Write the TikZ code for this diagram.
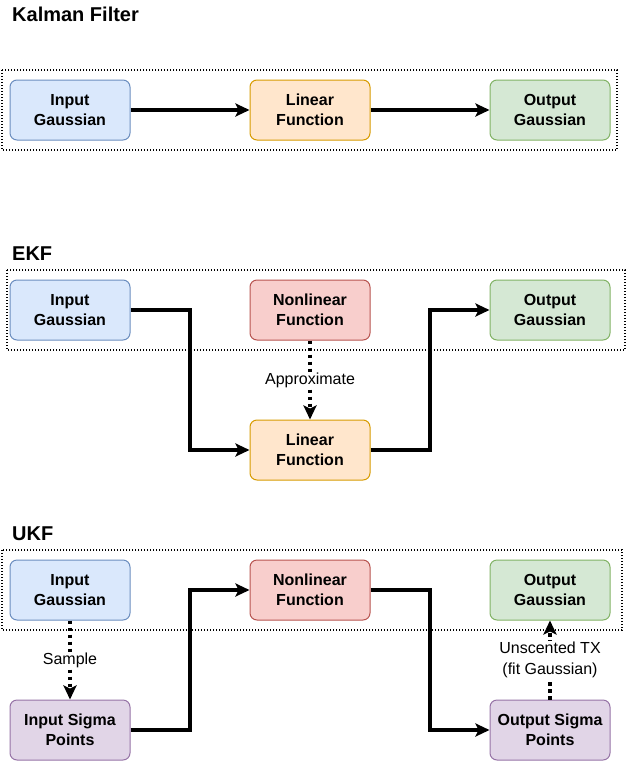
\documentclass[tikz,border=0pt]{standalone}
\usepackage{fontspec}
\setmainfont{Liberation Sans}
\usetikzlibrary{arrows.meta}
\definecolor{bfill}{HTML}{DAE8FC}\definecolor{bdraw}{HTML}{6C8EBF}
\definecolor{ofill}{HTML}{FFE6CC}\definecolor{odraw}{HTML}{D79B00}
\definecolor{gfill}{HTML}{D5E8D4}\definecolor{gdraw}{HTML}{82B366}
\definecolor{rfill}{HTML}{F8CECC}\definecolor{rdraw}{HTML}{B85450}
\definecolor{pfill}{HTML}{E1D5E7}\definecolor{pdraw}{HTML}{9673A6}
\tikzset{
  box/.style={rounded corners=7pt, minimum width=120pt, minimum height=60pt, inner sep=0pt,
    align=center, font=\fontsize{16}{20.5}\selectfont\bfseries, line width=1pt},
  blue/.style={box, fill=bfill, draw=bdraw},
  orange/.style={box, fill=ofill, draw=odraw},
  green/.style={box, fill=gfill, draw=gdraw},
  red/.style={box, fill=rfill, draw=rdraw},
  purple/.style={box, fill=pfill, draw=pdraw},
  frame/.style={draw, line width=1.4pt, dash pattern=on 1.4pt off 1.6pt},
  title/.style={anchor=base west, inner sep=0pt, font=\fontsize{20}{22}\selectfont\bfseries},
  conn/.style={line width=3.5pt, -{Stealth[length=14pt,width=13pt,inset=3pt]}},
  dconn/.style={line width=3.5pt, dash pattern=on 3.5pt off 3.5pt, -{Stealth[length=14pt,width=13pt,inset=3pt]}},
  lbl/.style={fill=white, align=center, inner sep=1pt, font=\fontsize{16}{21}\selectfont},
}
\begin{document}
\begin{tikzpicture}[x=1pt,y=-1pt]
\useasboundingbox (0,0) rectangle (627,761);
% Kalman
\node[title] (t1) at (12,21) {Kalman Filter};
\draw[frame] (2,70) rectangle (617,150);
\node[blue] (k1) at (70,110) {Input\\Gaussian};
\node[orange] (k2) at (310,110) {Linear\\Function};
\node[green] (k3) at (550,110) {Output\\Gaussian};
\draw[conn] (k1) -- (k2);
\draw[conn] (k2) -- (k3);
% EKF
\node[title] (t2) at (12,260) {EKF};
\draw[frame] (7,270) rectangle (625,350);
\node[blue] (e1) at (70,310) {Input\\Gaussian};
\node[red] (e2) at (310,310) {Nonlinear\\Function};
\node[green] (e3) at (550,310) {Output\\Gaussian};
\node[orange] (e4) at (310,450) {Linear\\Function};
\draw[conn] (e1.east) -- (190,310) |- (e4.west);
\draw[conn] (e4.east) -- (430,450) |- (e3.west);
\draw[dconn] (e2.south) -- node[lbl] {Approximate} (e4.north);
% UKF
\node[title] (t3) at (12,540) {UKF};
\draw[frame] (2,550) rectangle (622,630);
\node[blue] (u1) at (70,590) {Input\\Gaussian};
\node[red] (u2) at (310,590) {Nonlinear\\Function};
\node[green] (u3) at (550,590) {Output\\Gaussian};
\node[purple] (u4) at (70,730) {Input Sigma\\Points};
\node[purple] (u5) at (550,730) {Output Sigma\\Points};
\draw[conn] (u4.east) -- (190,730) |- (u2.west);
\draw[conn] (u2.east) -- (430,590) |- (u5.west);
\draw[dconn] (u1.south) -- node[lbl] {Sample} (u4.north);
\draw[dconn] (u5.north) -- node[lbl, pos=0.5] {Unscented TX\\(fit Gaussian)} (u3.south);
\end{tikzpicture}
\end{document}
